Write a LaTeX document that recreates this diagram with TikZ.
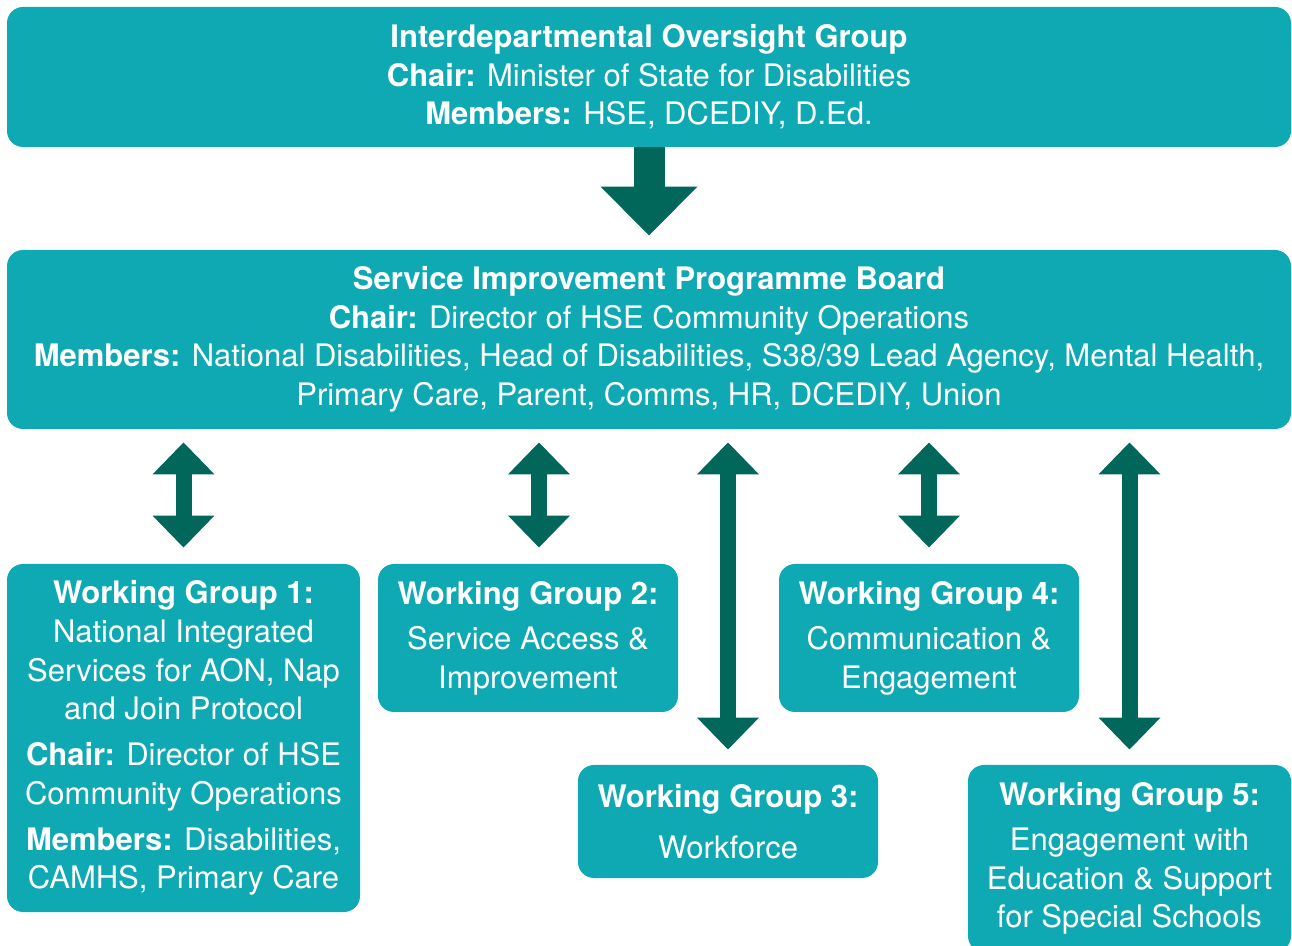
\documentclass[tikz,border=0pt]{standalone}
\usepackage{fontspec}
\setmainfont{TeX Gyre Heros}
\usetikzlibrary{arrows.meta}
\definecolor{wgteal}{HTML}{0FA9B4}
\definecolor{arrowgreen}{HTML}{00675A}

\begin{document}
\begin{tikzpicture}[x=0.5pt,y=-0.5pt,
  box/.style={fill=wgteal,rounded corners=8pt,text=white,align=center,inner sep=0pt,
    font=\fontsize{15.5}{19.25}\selectfont},
  oneway/.style={draw=arrowgreen,line width=15.5pt,-{Triangle[width=47pt,length=24.5pt]}},
  twoway/.style={draw=arrowgreen,line width=8pt,
    {Triangle[width=30pt,length=16pt]}-{Triangle[width=30pt,length=16pt]}}]
\useasboundingbox (0,0) rectangle (1292,946);
\clip (0,0) rectangle (1292,946);
\node [box,minimum width=642pt,minimum height=70pt] (iog) at (649,77)
  {\textbf{Interdepartmental Oversight Group}\\
   \textbf{Chair:} Minister of State for Disabilities\\
   \textbf{Members:} HSE, DCEDIY, D.Ed.};
\node [box,minimum width=642pt,minimum height=89.5pt] (sipb) at (649,339.5)
  {\textbf{Service Improvement Programme Board}\\
   \textbf{Chair:} Director of HSE Community Operations\\
   \textbf{Members:} National Disabilities, Head of Disabilities, S38/39 Lead Agency, Mental Health,\\
   Primary Care, Parent, Comms, HR, DCEDIY, Union};
\node [box,minimum width=176.5pt,minimum height=174pt] (wg1) at (183.5,738)
  {\textbf{Working Group 1:}\\[0.5pt]
   National Integrated\\ Services for AON, Nap\\ and Join Protocol\\[3.75pt]
   \textbf{Chair:} Director of HSE\\ Community Operations\\[3.75pt]
   \textbf{Members:} Disabilities,\\ CAMHS, Primary Care};
\node [box,minimum width=150pt,minimum height=74pt] (wg2) at (528,638)
  {\textbf{Working Group 2:}\\[3.5pt] Service Access \&\\ Improvement};
\node [box,minimum width=150pt,minimum height=56.5pt] (wg3) at (728,821.5)
  {\textbf{Working Group 3:}\\[6pt] Workforce};
\node [box,minimum width=150pt,minimum height=74pt] (wg4) at (929,638)
  {\textbf{Working Group 4:}\\[3.5pt] Communication \&\\ Engagement};
\node [box,minimum width=161.5pt,minimum height=93.5pt] (wg5) at (1129.5,858.5)
  {\textbf{Working Group 5:}\\[3.5pt] Engagement with\\ Education \& Support\\ for Special Schools};
\coordinate (wg2in) at ([xshift=5.5pt]wg2.north);

\draw [oneway,shorten >=7pt] (iog.south) -- (sipb.north);
\draw [twoway,shorten <=6.5pt,shorten >=8pt] (sipb.south -| wg1.north) -- (wg1.north);
\draw [twoway,shorten <=6.5pt,shorten >=8pt] (sipb.south -| wg2in) -- (wg2in);
\draw [twoway,shorten <=6.5pt,shorten >=7.5pt] (sipb.south -| wg3.north) -- (wg3.north);
\draw [twoway,shorten <=6.5pt,shorten >=8pt] (sipb.south -| wg4.north) -- (wg4.north);
\draw [twoway,shorten <=6.5pt,shorten >=7.5pt] (sipb.south -| wg5.north) -- (wg5.north);
\end{tikzpicture}
\end{document}
